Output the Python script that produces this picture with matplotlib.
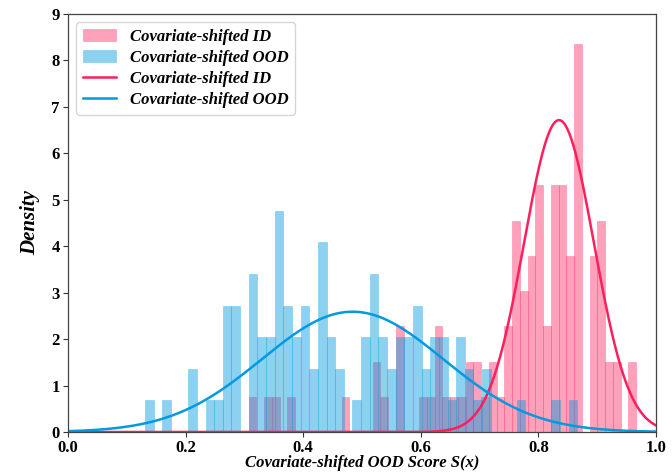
import numpy as np
import matplotlib
matplotlib.use("Agg")
import matplotlib.pyplot as plt

plt.rcParams['font.family'] = ['Liberation Serif', 'DejaVu Serif']

# contagens por bin (50 bins para cada distribuicao)
n_amostras = 100
ood_min, ood_max = 0.131, 0.866
id_min, id_max = 0.3073, 0.9663

ood_counts = [1, 0, 1, 0, 0, 2, 0, 1, 1, 4,
              4, 0, 5, 3, 3, 7, 4, 3, 4, 2,
              6, 3, 2, 0, 1, 3, 5, 3, 2, 3,
              3, 4, 2, 3, 3, 1, 3, 2, 1, 2,
              0, 0, 0, 1, 0, 0, 0, 1, 0, 1]
id_counts = [1, 0, 1, 1, 0, 1, 0, 0, 0, 0,
             0, 0, 1, 0, 0, 0, 2, 1, 0, 3,
             0, 0, 1, 1, 3, 1, 1, 1, 2, 2,
             1, 2, 1, 3, 6, 4, 5, 7, 3, 7,
             7, 5, 11, 0, 5, 6, 2, 2, 0, 2]

# curvas normais ajustadas (media, desvio)
id_mu, id_sigma = 0.835, 0.0594
ood_mu, ood_sigma = 0.484, 0.154

cor_id = '#FF1F5B'
cor_ood = '#009ADE'


def pdf_normal(x, mu, sigma):
    return np.exp(-0.5 * ((x - mu) / sigma) ** 2) / (sigma * np.sqrt(2 * np.pi))


fig = plt.figure(figsize=(6.72, 4.72), dpi=100)
ax = fig.add_axes([0.1012, 0.0847, 0.875, 0.8856])

id_edges = np.linspace(id_min, id_max, len(id_counts) + 1)
ood_edges = np.linspace(ood_min, ood_max, len(ood_counts) + 1)
id_w = id_edges[1] - id_edges[0]
ood_w = ood_edges[1] - ood_edges[0]

ax.hist(id_edges[:-1], bins=id_edges,
        weights=np.array(id_counts) / (n_amostras * id_w),
        color=cor_id, alpha=0.42, edgecolor=cor_id, linewidth=0.4,
        label='Covariate-shifted ID')
ax.hist(ood_edges[:-1], bins=ood_edges,
        weights=np.array(ood_counts) / (n_amostras * ood_w),
        color=cor_ood, alpha=0.45, edgecolor=cor_ood, linewidth=0.4,
        label='Covariate-shifted OOD')

xs = np.linspace(0, 1, 600)
ax.plot(xs, pdf_normal(xs, id_mu, id_sigma), color=cor_id, lw=1.8,
        label='Covariate-shifted ID')
ax.plot(xs, pdf_normal(xs, ood_mu, ood_sigma), color=cor_ood, lw=1.8,
        label='Covariate-shifted OOD')

ax.set_xlim(0, 1)
ax.set_ylim(0, 9)
ax.set_xticks([0.0, 0.2, 0.4, 0.6, 0.8, 1.0])
ax.set_yticks(range(0, 10))
ax.tick_params(labelsize=12, length=3.5, width=0.8, pad=2.5, colors='#333333', labelcolor='black')
for lbl in ax.get_xticklabels() + ax.get_yticklabels():
    lbl.set_fontweight('bold')
for sp in ax.spines.values():
    sp.set_color('#444444')
    sp.set_linewidth(0.9)

ax.set_xlabel('Covariate-shifted OOD Score S(x)', fontsize=12, fontweight='bold',
              fontstyle='italic', labelpad=-1)
ax.set_ylabel('Density', fontsize=15, fontweight='bold', fontstyle='italic', labelpad=8)

ax.legend(loc='upper left', prop={'weight': 'bold', 'style': 'italic', 'size': 12},
          handlelength=2.0, labelspacing=0.3, borderpad=0.4)

fig.savefig('out.png', dpi=100)
